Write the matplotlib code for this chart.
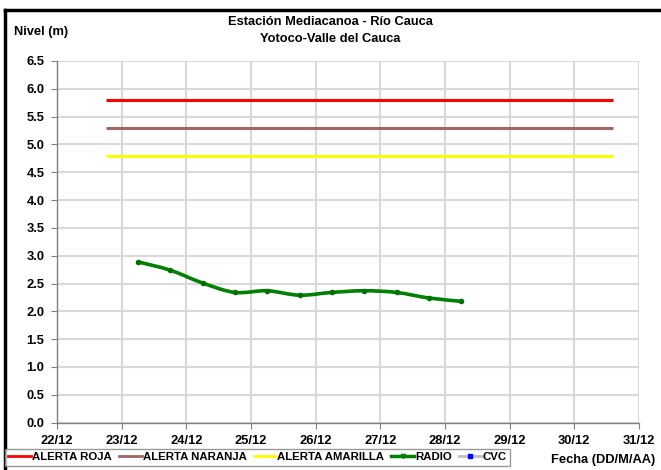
import matplotlib
matplotlib.use("Agg")
import matplotlib.pyplot as plt
import numpy as np
from matplotlib.path import Path
from matplotlib.patches import PathPatch
from matplotlib.lines import Line2D

plt.rcParams['font.family'] = ['Liberation Sans', 'DejaVu Sans']
plt.rcParams['font.weight'] = 'bold'

# x axis: day of December
day_ticks = [22, 23, 24, 25, 26, 27, 28, 29, 30, 31]
day_labels = ["22/12", "23/12", "24/12", "25/12", "26/12", "27/12", "28/12", "29/12", "30/12", "31/12"]

# alert levels (m), drawn from 22/12 18:00 to 30/12 ~14:00
alert_span = [22.75, 30.6]
alerta_roja = 5.8
alerta_naranja = 5.3
alerta_amarilla = 4.8

# RADIO readings every 12 h (day of month, level m)
radio_days = [23.25, 23.75, 24.25, 24.75, 25.25, 25.75, 26.25, 26.75, 27.25, 27.75, 28.25]
radio_level = [2.89, 2.74, 2.51, 2.34, 2.37, 2.29, 2.34, 2.37, 2.34, 2.24, 2.18]

fig = plt.figure(figsize=(6.61, 4.70), dpi=100)
ax = fig.add_axes([57/661, 1 - 422.6/470, (639 - 57)/661, (422.6 - 61)/470])

ax.plot(alert_span, [alerta_roja] * 2, color='#FF0000', lw=2.2, solid_capstyle='butt', zorder=3)
ax.plot(alert_span, [alerta_naranja] * 2, color='#A0665F', lw=2.2, solid_capstyle='butt', zorder=3)
ax.plot(alert_span, [alerta_amarilla] * 2, color='#FFFF00', lw=2.2, solid_capstyle='butt', zorder=3)

# smoothed line like Excel (Catmull-Rom as cubic Bezier through the points)
x = np.array(radio_days)
y = np.array(radio_level)
verts = [(x[0], y[0])]
codes = [Path.MOVETO]
for i in range(len(x) - 1):
    x0, y0 = (x[i - 1], y[i - 1]) if i > 0 else (x[i], y[i])
    x3, y3 = (x[i + 2], y[i + 2]) if i + 2 < len(x) else (x[i + 1], y[i + 1])
    c1 = (x[i] + (x[i + 1] - x0) / 6, y[i] + (y[i + 1] - y0) / 6)
    c2 = (x[i + 1] - (x3 - x[i]) / 6, y[i + 1] - (y3 - y[i]) / 6)
    verts += [c1, c2, (x[i + 1], y[i + 1])]
    codes += [Path.CURVE4] * 3
ax.add_patch(PathPatch(Path(verts, codes), fill=False, edgecolor='#008000', lw=2.6, zorder=4))
ax.plot(x, y, ls='none', marker='o', ms=3, color='#007000', zorder=5)

ax.set_xlim(22, 31)
ax.set_ylim(0, 6.5)
ax.set_xticks(day_ticks)
ax.set_xticklabels(day_labels)
ax.set_yticks(np.arange(0, 6.51, 0.5))
ax.set_yticklabels([f"{v:.1f}" for v in np.arange(0, 6.51, 0.5)])
ax.tick_params(labelsize=9.3, length=4, color='#808080', pad=5)
ax.grid(True, color='#D9D9D9', lw=1.5)
ax.set_axisbelow(True)
for s in ['top', 'right']:
    ax.spines[s].set_visible(False)
for s in ['left', 'bottom']:
    ax.spines[s].set_color('#808080')
    ax.spines[s].set_linewidth(1.0)

fig.text(0.5, 1 - 22/470, "Estación Mediacanoa - Río Cauca", ha='center', va='center', fontsize=9.3)
fig.text(0.5, 1 - 39/470, "Yotoco-Valle del Cauca", ha='center', va='center', fontsize=9.3)
fig.text(14/661, 1 - 32/470, "Nivel (m)", ha='left', va='center', fontsize=9.3)
fig.text(655/661, 1 - 460/470, "Fecha (DD/M/AA)", ha='right', va='center', fontsize=9.3)

handles = [
    Line2D([], [], color='#FF0000', lw=2),
    Line2D([], [], color='#A0665F', lw=2),
    Line2D([], [], color='#FFFF00', lw=2),
    Line2D([], [], color='#008000', lw=2.5, marker='v', ms=3),
    Line2D([], [], color='#BFBFBF', lw=2, marker='s', ms=2.5, mfc='#0000FF', mec='#0000FF'),
]
labels = ["ALERTA ROJA", "ALERTA NARANJA", "ALERTA AMARILLA", "RADIO", "CVC"]
leg = fig.legend(handles, labels, loc='upper left', bbox_to_anchor=(5/661, 1 - 449/470), ncol=5,
                 fontsize=8.2, frameon=True, fancybox=False, handlelength=2.0, handletextpad=0.1,
                 columnspacing=0.6, borderpad=0.3, borderaxespad=0)
leg.get_frame().set_edgecolor('#808080')
leg.get_frame().set_linewidth(1.0)

# black frame of the picture (top and left edges)
fig.add_artist(Line2D([4.5/661, 1], [1 - 9.5/470] * 2, color='black', lw=2.5, transform=fig.transFigure))
fig.add_artist(Line2D([4.5/661] * 2, [0, 1 - 9.5/470], color='black', lw=2.5, transform=fig.transFigure))

fig.savefig("out.png", dpi=100)
